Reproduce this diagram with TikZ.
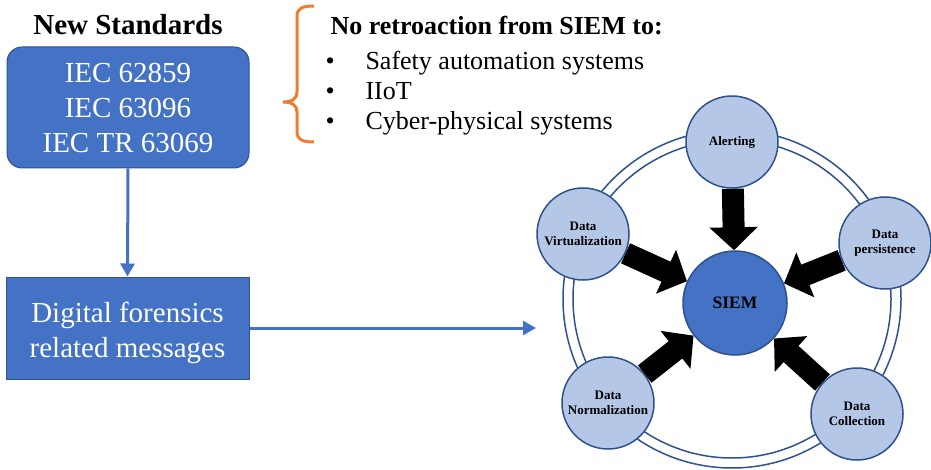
\documentclass[tikz,border=0pt]{standalone}
\usepackage{fontspec}
\setmainfont{Liberation Serif}
\usetikzlibrary{arrows.meta}

\definecolor{boxblue}{HTML}{4472C4}
\definecolor{lightblue}{HTML}{B4C7E7}
\definecolor{edgeblue}{HTML}{2F528F}
\definecolor{braceorange}{HTML}{ED7D31}

\tikzset{
  stdbox/.style={draw=edgeblue,line width=1pt,fill=boxblue,text=white,align=center,
    font=\fontsize{29}{35}\selectfont,inner sep=0pt},
  boxtext/.style={text=white,align=center,font=\fontsize{29}{35}\selectfont,inner sep=0pt},
  flow/.style={draw=boxblue,line width=3pt,-{Triangle[width=14pt,length=13pt]}},
  sat/.style={circle,draw=edgeblue,line width=1.5pt,fill=lightblue,minimum size=92pt,
    inner sep=0pt,align=center,font=\fontsize{13}{15}\selectfont\bfseries},
  push/.style={line width=22pt,-{Triangle[width=47pt,length=23pt]}},
  listtext/.style={anchor=base west,font=\fontsize{26}{30}\selectfont}
}

\begin{document}
\begin{tikzpicture}[x=1pt,y=-1pt]
\useasboundingbox (0,0) rectangle (931,470);

%left column
\node[anchor=base,font=\fontsize{29}{35}\selectfont\bfseries] (title) at (128,35) {New Standards};
\node[stdbox,rounded corners=15pt,minimum width=242pt,minimum height=121pt] (std) at (128,107.5)
  {IEC 62859\\IEC 63096\\IEC TR 63069};
\node[stdbox,minimum width=243pt,minimum height=102pt] (dfm) at (127.5,328) {};
\node[boxtext] (dfmtext) at (127.5,332.5) {Digital forensics\\related messages};
\coordinate (into) at (536,328);

\draw[flow] (std.south) -- (dfm.north);
\draw[flow] (dfm.east |- into) -- (into);

%brace and list
\draw[braceorange,line width=3pt] (314,6) .. controls (303,6) and (297,8) .. (297,16)
  -- (297,92) .. controls (297,98) and (293,102) .. (283,102)
  .. controls (293,102) and (297,106) .. (297,112)
  -- (297,132) .. controls (297,140) and (303,142) .. (314,142);
\node[listtext,font=\fontsize{26}{30}\selectfont\bfseries] (head) at (327,35) {No retroaction from SIEM to:};
\node[listtext] (b1) at (322,70) {•};
\node[listtext] (b2) at (322,100) {•};
\node[listtext] (b3) at (322,130) {•};
\node[listtext] (l1) at (362,70) {Safety automation systems};
\node[listtext] (l2) at (362,100) {IIoT};
\node[listtext] (l3) at (362,130) {Cyber-physical systems};

%ring
\draw[edgeblue,line width=1.5pt] (732,299) circle[radius=169];
\draw[edgeblue,line width=1.5pt] (732,299) circle[radius=159];

%circles
\node[sat,fill=boxblue,minimum size=104pt,font=\fontsize{17.5}{20}\selectfont\bfseries] (siem) at (735,303) {SIEM};
\node[sat] (alert) at (732,142) {Alerting};
\node[sat] (virt) at (583,234) {Data\\Virtualization};
\node[sat] (pers) at (885,243) {Data\\persistence};
\node[sat] (norm) at (608,403) {Data\\Normalization};
\node[sat] (coll) at (857,414) {Data\\Collection};

%arrows to SIEM
\draw[push] (alert) -- (siem);
\draw[push] (virt) -- (siem);
\draw[push] (pers) -- (siem);
\draw[push] (norm) -- (siem);
\draw[push] (coll) -- (siem);

\end{tikzpicture}
\end{document}
